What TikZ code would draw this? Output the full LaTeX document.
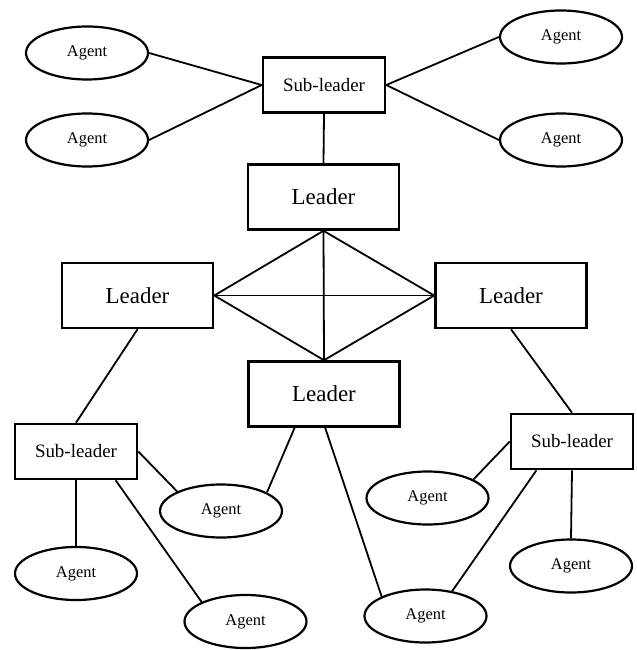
\documentclass[tikz,border=0pt]{standalone}
\usepackage{fontspec}
\setmainfont{Liberation Serif}
\usetikzlibrary{shapes.geometric}
\tikzset{
  leaderbox/.style={draw, line width=2.6bp, rectangle, inner sep=0pt,
    minimum width=151bp, minimum height=65bp, font=\fontsize{23}{25}\selectfont},
  subbox/.style={draw, line width=2.6bp, rectangle, inner sep=0pt,
    minimum width=122bp, minimum height=55bp, font=\fontsize{19}{21}\selectfont},
  agent/.style={draw, line width=2.2bp, ellipse, inner sep=0pt,
    minimum width=122bp, minimum height=53bp, font=\fontsize{16.5}{18}\selectfont},
  link/.style={line width=1.8bp},
  thinlink/.style={line width=1.2bp}
}
\begin{document}
\begin{tikzpicture}[x=1bp,y=-1bp]
\useasboundingbox (0,0) rectangle (637,650);

% top group
\node[subbox] (sl1) at (324,85) {Sub-leader};
\node[agent] (a1) at (87,53) {Agent};
\node[agent] (a2) at (87,140) {Agent};
\node[agent] (a3) at (561,37) {Agent};
\node[agent] (a4) at (561,140) {Agent};

% leaders
\node[leaderbox] (L1) at (323.5,197) {Leader};
\node[leaderbox] (L2) at (137.5,295.5) {Leader};
\node[leaderbox] (L3) at (511,295.5) {Leader};
\node[leaderbox] (L4) at (324,394) {Leader};

% lower sub-leaders and agents
\node[subbox] (sl2) at (76,451.5) {Sub-leader};
\node[subbox] (sl3) at (572,441.5) {Sub-leader};
\node[agent] (a5) at (76,573.5) {Agent};
\node[agent] (a6) at (221,511) {Agent};
\node[agent] (a7) at (245.5,621.5) {Agent};
\node[agent] (a8) at (427.5,498) {Agent};
\node[agent] (a9) at (571,566) {Agent};
\node[agent] (a10) at (425.5,616) {Agent};

% top group links
\draw[link] (a1.east) -- (sl1.west);
\draw[link] (a2.east) -- (sl1.west);
\draw[link] (a3.west) -- (sl1.east);
\draw[link] (a4.west) -- (sl1.east);
\draw[link] (sl1.south) -- (L1.north);

% leader diamond
\draw[link] (L1.south) -- (L2.east);
\draw[link] (L1.south) -- (L3.west);
\draw[link] (L2.east) -- (L4.north);
\draw[link] (L3.west) -- (L4.north);
\draw[link] (L1.south) -- (L4.north);
\draw[thinlink] (L2.east) -- (L3.west);

% leaders to sub-leaders
\draw[link] (L2.south) -- (sl2.north);
\draw[link] (L3.south) -- (sl3.north);

% left sub-leader group
\draw[link] (sl2.south) -- (a5.north);
\draw[link] (sl2.east) -- (a6.156);
\draw[link] (sl2.324) -- (a7.156);
\draw[link] (L4.229.5) -- (a6.22.5);

% right sub-leader group
\draw[link] (sl3.west) -- (a8.22);
\draw[link] (sl3.south) -- (a9.north);
\draw[link] (sl3.219) -- (a10.43);
\draw[link] (L4.272) -- (a10.156);
\end{tikzpicture}
\end{document}
